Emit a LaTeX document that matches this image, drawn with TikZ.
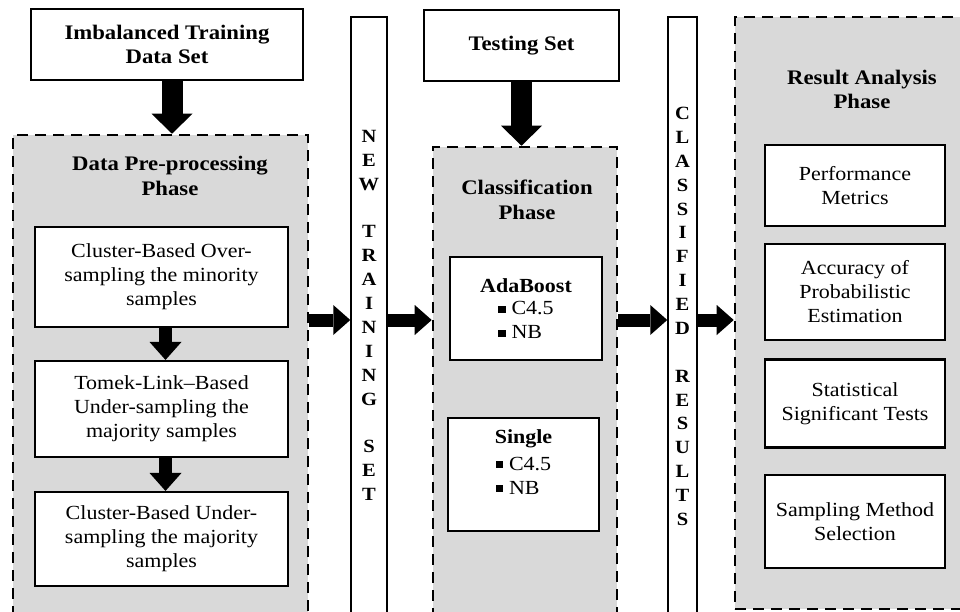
\documentclass[tikz,border=0pt]{standalone}
\usepackage{fontspec}
\setmainfont{Liberation Serif}[FakeStretch=1.1]
\usetikzlibrary{arrows.meta}
\definecolor{phasegray}{RGB}{217,217,217}
\newcommand{\sqbul}{\rule[0.1em]{0.36em}{0.36em}\hspace{0.3em}}
\newcommand{\boxfont}{\fontsize{15}{18}\selectfont}
\newcommand{\headfont}{\bfseries\fontsize{15.5}{18.5}\selectfont}
\tikzset{
  phase/.style={draw, dash pattern=on 8pt off 5.5pt, line width=1.9pt, fill=phasegray, inner sep=0pt},
  box/.style={draw, line width=1.6pt, fill=white, align=center, inner sep=0pt, font=\boxfont},
  tallbox/.style={draw, line width=1.1pt, fill=white, inner sep=0pt},
  title/.style={align=center, inner sep=0pt, font=\headfont},
  letters/.style={align=center, inner sep=0pt, font=\bfseries\fontsize{14}{17.9}\selectfont},
  bigarrow/.style={line width=15.75pt, -{Triangle[width=30.75pt,length=15pt,line width=0pt]}},
  flowarrow/.style={line width=9.75pt, -{Triangle[width=22.5pt,length=12.75pt,line width=0pt]}},
  steparrow/.style={line width=9.75pt, -{Triangle[width=24pt,length=13.5pt,line width=0pt]}}
}
\begin{document}
\begin{tikzpicture}[x=0.75pt,y=-0.75pt]
  \useasboundingbox (0,0) rectangle (960,611);
  \clip (0,0) rectangle (960,611);

  % phases
  \node[phase, minimum width=221.25pt, minimum height=378.75pt] (pre) at (160.5,387.5) {};
  \node[phase, minimum width=138pt, minimum height=377.25pt] (cls) at (525,398.5) {};
  \node[phase, minimum width=183.75pt, minimum height=444pt] (res) at (857.5,313) {};
  \node[title] (pretitle) at (170,176) {Data Pre-processing\\Phase};
  \node[title] (clstitle) at (527,200) {Classification\\Phase};
  \node[title] (restitle) at (862,89.5) {Result Analysis\\Phase};

  % inputs
  \node[box, font=\headfont, minimum width=204pt, minimum height=53.25pt] (imb) at (167,44.5) {Imbalanced Training\\Data Set};
  \node[box, font=\headfont, minimum width=146.25pt, minimum height=53.25pt] (test) at (521.5,45.5) {Testing Set};

  % pre-processing steps
  \node[box, minimum width=189.75pt, minimum height=75pt] (over) at (161.5,277) {Cluster-Based Over-\\sampling the minority\\samples};
  \node[box, minimum width=189.75pt, minimum height=72pt] (tomek) at (161.5,409) {Tomek-Link--Based\\Under-sampling the\\majority samples};
  \node[box, minimum width=189.75pt, minimum height=70.5pt] (under) at (161.5,539) {Cluster-Based Under-\\sampling the majority\\samples};

  % vertical sets
  \node[tallbox, minimum width=27pt, minimum height=474.75pt] (new) at (369,333.5) {};
  \node[letters, anchor=north] (newtxt) at (369,130) {N\\E\\W\\ \\T\\R\\A\\I\\N\\I\\N\\G\\ \\S\\E\\T};
  \node[tallbox, minimum width=21.75pt, minimum height=474.75pt] (cr) at (682.5,333.5) {};
  \node[letters, anchor=north] (crtxt) at (682.5,107) {C\\L\\A\\S\\S\\I\\F\\I\\E\\D\\ \\R\\E\\S\\U\\L\\T\\S};

  % classifiers
  \node[box, minimum width=114pt, minimum height=77.25pt] (ada) at (526,308.5)
    {\mbox{}\\[-2pt] \textbf{AdaBoost}\\[3pt] \begin{tabular}{@{}l@{}}\sqbul C4.5\\ \sqbul NB\end{tabular}};
  \node[box, minimum width=113.25pt, minimum height=84.75pt] (single) at (523.5,474.5)
    {\textbf{Single}\\[3pt] \begin{tabular}{@{}l@{}}\sqbul C4.5\\ \sqbul NB\end{tabular}\\[10pt] \mbox{}};

  % analysis
  \node[box, minimum width=135pt, minimum height=60.75pt] (perf) at (855,185.5) {Performance\\Metrics};
  \node[box, minimum width=135pt, minimum height=72pt] (acc) at (855,292) {Accuracy of\\Probabilistic\\Estimation};
  \node[box, minimum width=135pt, minimum height=66pt] (stat) at (855,403.5) {Statistical\\Significant Tests};
  \node[box, minimum width=135pt, minimum height=69.75pt] (samp) at (855,521.5) {Sampling Method\\Selection};

  % arrows
  \coordinate (lev) at (0,320);
  \draw[bigarrow] ([xshift=3.75pt]imb.south) -- ([xshift=3.75pt]imb.south |- pre.north);
  \draw[bigarrow] (test.south) -- (test.south |- cls.north);
  \draw[steparrow] ([xshift=3pt]over.south) -- ([xshift=3pt]tomek.north);
  \draw[steparrow] ([xshift=3pt]tomek.south) -- ([xshift=3pt]under.north);
  \draw[flowarrow] (pre.east |- lev) -- (new.west |- lev);
  \draw[flowarrow] (new.east |- lev) -- (cls.west |- lev);
  \draw[flowarrow] (cls.east |- lev) -- (cr.west |- lev);
  \draw[flowarrow] (cr.east |- lev) -- (res.west |- lev);
\end{tikzpicture}
\end{document}
